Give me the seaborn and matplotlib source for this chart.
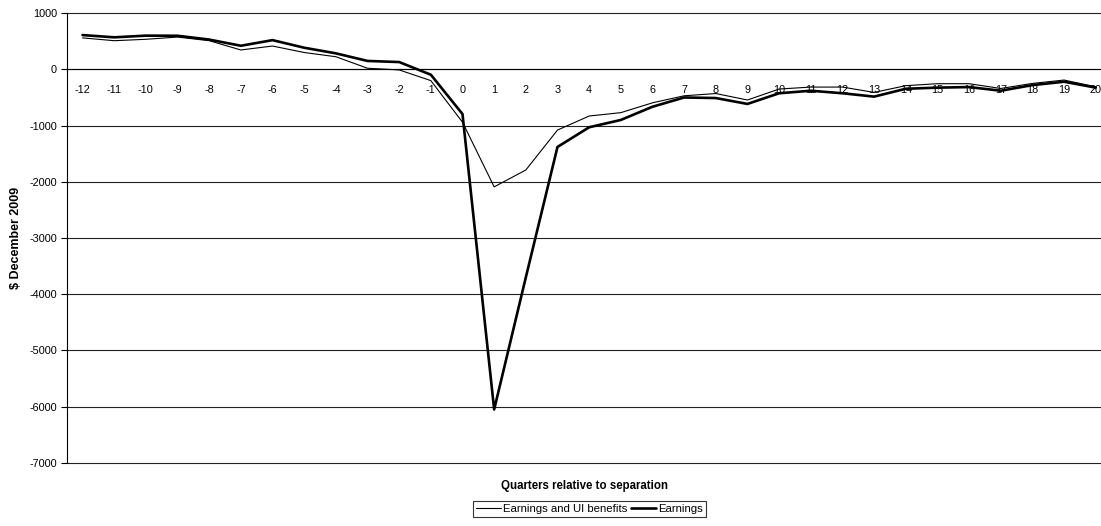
import numpy as np
import pandas as pd
import matplotlib
matplotlib.use('Agg')
import matplotlib.pyplot as plt
import seaborn as sns

# values
quarters = list(range(-12, 21))
earnings_ui = [560, 510, 535, 575, 510, 345, 415, 300, 225, 20, -10, -200,
               -940, -2090, -1790, -1080, -830, -770, -595, -470, -430, -545,
               -350, -315, -315, -410, -290, -255, -255, -340, -250, -190, -310]
earnings = [610, 570, 600, 598, 530, 420, 520, 385, 285, 150, 130, -95,
            -795, -6050, -3700, -1380, -1030, -900, -665, -500, -510, -615,
            -425, -380, -425, -485, -345, -325, -315, -380, -280, -220, -325]

df = pd.DataFrame({'quarter': quarters * 2,
                   'value': earnings_ui + earnings,
                   'series': ['Earnings and UI benefits'] * len(quarters)
                             + ['Earnings'] * len(quarters)})

sns.set_theme(style="white", rc={'text.color': 'black', 'axes.labelcolor': 'black',
                                 'xtick.color': 'black', 'ytick.color': 'black'})
plt.rcParams['font.family'] = ['Liberation Sans', 'DejaVu Sans']
plt.rcParams['axes.unicode_minus'] = False

fig = plt.figure(figsize=(11.01, 5.26), dpi=100)
# the original chart is cut off a little on the right
ax = fig.add_axes([0.0606, 0.12, 0.949, 0.855])

sns.lineplot(data=df[df['series'] == 'Earnings and UI benefits'], x='quarter', y='value',
             color='black', linewidth=0.8, ax=ax, label='Earnings and UI benefits')
sns.lineplot(data=df[df['series'] == 'Earnings'], x='quarter', y='value',
             color='black', linewidth=1.9, ax=ax, label='Earnings')

# axes and grid, Excel style
ax.set_ylim(-7000, 1000)
ax.set_xlim(quarters[0] - 0.5, quarters[-1] + 0.5)
ax.set_yticks(np.arange(-7000, 1001, 1000))
ax.yaxis.grid(True, color='#222222', linewidth=0.8)
for gl in ax.get_ygridlines():
    gl.set_clip_on(False)
ax.set_axisbelow(True)
ax.spines['top'].set_visible(False)
ax.spines['right'].set_visible(False)
ax.spines['bottom'].set_position(('data', 0))
for s in ['left', 'bottom']:
    ax.spines[s].set_color('black')
    ax.spines[s].set_linewidth(0.8)

ax.set_xticks(np.arange(quarters[0] - 0.5, quarters[-1] + 1, 1))
ax.set_xticklabels([])
ax.set_xticks(quarters, minor=True)
ax.set_xticklabels([str(q) for q in quarters], minor=True)
ax.tick_params(axis='x', which='major', direction='out', length=4, width=0.8, color='black')
ax.tick_params(axis='x', which='minor', length=0, pad=11, labelsize=7.8)
ax.tick_params(axis='y', direction='out', length=4, width=0.8, color='black',
               labelsize=7.8, left=True, pad=3)

ax.set_xlabel('')
ax.set_ylabel('$ December 2009', fontsize=9, fontweight='bold', labelpad=5.5)
fig.text(0.531, 0.076, 'Quarters relative to separation', ha='center', va='center',
         fontsize=8.3, fontweight='bold')

ax.legend(loc='center', bbox_to_anchor=(0.5, -0.102), ncol=2, fontsize=8.2,
          frameon=True, fancybox=False, edgecolor='black', handlelength=2.2,
          handletextpad=0.2, columnspacing=0.3, borderpad=0.25, borderaxespad=0)
ax.get_legend().get_frame().set_linewidth(0.8)

plt.savefig('out.png', dpi=100)
